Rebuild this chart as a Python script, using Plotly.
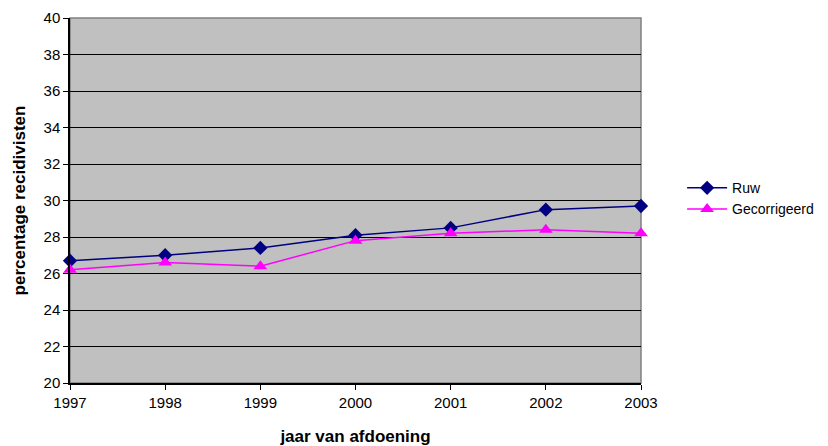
import plotly.graph_objects as go

years = [1997, 1998, 1999, 2000, 2001, 2002, 2003]
ruw = [26.7, 27.0, 27.4, 28.1, 28.5, 29.5, 29.7]
gecorrigeerd = [26.2, 26.6, 26.4, 27.8, 28.2, 28.4, 28.2]
y_ticks = list(range(20, 41, 2))

font = "Liberation Sans, Arial, sans-serif"

fig = go.Figure()
fig.add_trace(go.Scatter(
    x=years, y=ruw, name="Ruw", mode="lines+markers",
    line=dict(color="#000080", width=1.5),
    marker=dict(symbol="diamond", size=11, color="#000080"),
    cliponaxis=False,
))
fig.add_trace(go.Scatter(
    x=years, y=gecorrigeerd, name="Gecorrigeerd", mode="lines+markers",
    line=dict(color="#FF00FF", width=1.5),
    marker=dict(symbol="triangle-up", size=12, color="#FF00FF"),
    cliponaxis=False,
))

fig.add_shape(type="rect", xref="paper", yref="paper", x0=0, y0=0, x1=1, y1=1,
              line=dict(color="#808080", width=1.5), layer="below")

fig.update_layout(
    width=820, height=438,
    margin=dict(l=62, r=187, t=10, b=63, autoexpand=False),
    paper_bgcolor="white",
    plot_bgcolor="#C0C0C0",
    font=dict(family=font, size=15, color="black"),
    showlegend=True,
    legend=dict(x=1.072, y=0.505, xanchor="left", yanchor="middle",
                font=dict(size=14), bgcolor="rgba(0,0,0,0)", itemwidth=40),
    xaxis=dict(
        range=[1997, 2003], tickmode="array", tickvals=years,
        ticktext=[str(y) for y in years],
        showgrid=False, zeroline=False, automargin=False,
        showline=True, linecolor="black", linewidth=1.5,
        ticks="outside", ticklen=5, tickcolor="black",
        title=dict(text="<b>jaar van afdoening</b>", font=dict(size=17), standoff=20),
    ),
    yaxis=dict(
        range=[20, 40], tickmode="array", tickvals=y_ticks,
        showgrid=True, gridcolor="black", gridwidth=1, zeroline=False, automargin=False,
        showline=True, linecolor="black", linewidth=1.5,
        ticks="outside", ticklen=5, tickcolor="black",
        title=dict(text="<b>percentage recidivisten</b>", font=dict(size=17), standoff=14),
    ),
)

fig.write_html("out.html")
